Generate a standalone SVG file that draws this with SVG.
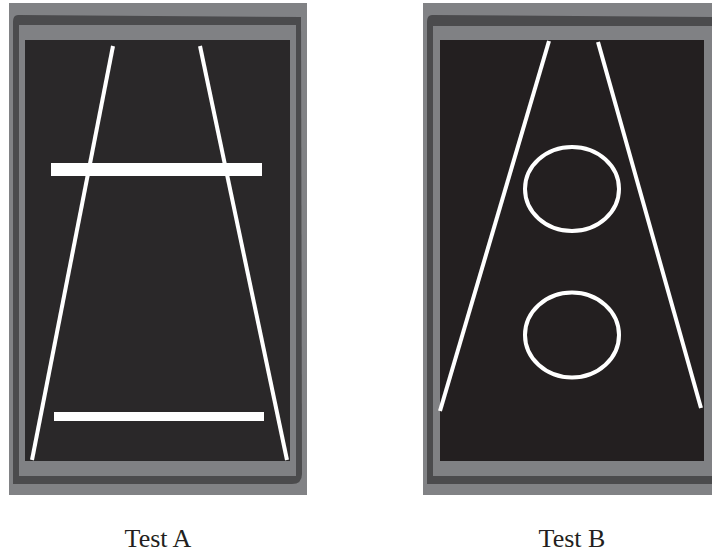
<svg xmlns="http://www.w3.org/2000/svg" width="712" height="553" viewBox="0 0 712 553">
<style>
.outer{fill:#818285}
.band{fill:#4b4b4d}
.frame{fill:#808184}
.screen{fill:#2a2829}
.screenB{fill:#231f20}
.bar{fill:#ffffff}
.ln{stroke:#ffffff;stroke-width:4;fill:none}
.ring{stroke:#ffffff;stroke-width:4;fill:none}
.lbl{font-family:"Liberation Serif","Times New Roman",serif;font-size:26px;fill:#231f20;text-anchor:middle}
</style>
<g id="testA">
<rect class="outer" x="9" y="3" width="298" height="492"/>
<path class="band" d="M18,15 L301,17 L302,474 Q302,484 292,484 L13,484 L13,22 Q13,15 18,15 Z"/>
<rect class="frame" x="19" y="25" width="277" height="451"/>
<rect class="screen" x="25" y="40" width="265" height="421"/>
<line class="ln" x1="113" y1="46" x2="32" y2="460"/>
<line class="ln" x1="200" y1="46" x2="287" y2="460"/>
<rect class="bar" x="51" y="163" width="211" height="13"/>
<rect class="bar" x="54" y="412" width="210" height="9"/>
</g>
<g id="testB">
<rect class="outer" x="423" y="3" width="289" height="492"/>
<path class="band" d="M432,15 L712,17 L712,484 L427,484 L427,22 Q427,15 432,15 Z"/>
<rect class="frame" x="433" y="26" width="279" height="450"/>
<rect class="screenB" x="440" y="40" width="264" height="421"/>
<line class="ln" x1="549" y1="41" x2="440" y2="411"/>
<line class="ln" x1="598" y1="42" x2="701" y2="408"/>
<ellipse class="ring" cx="572" cy="189" rx="47" ry="42"/>
<ellipse class="ring" cx="572" cy="335" rx="47" ry="42.5"/>
</g>
<g id="labels">
<text class="lbl" x="158" y="547">Test A</text>
<text class="lbl" x="572" y="547">Test B</text>
</g>
</svg>
